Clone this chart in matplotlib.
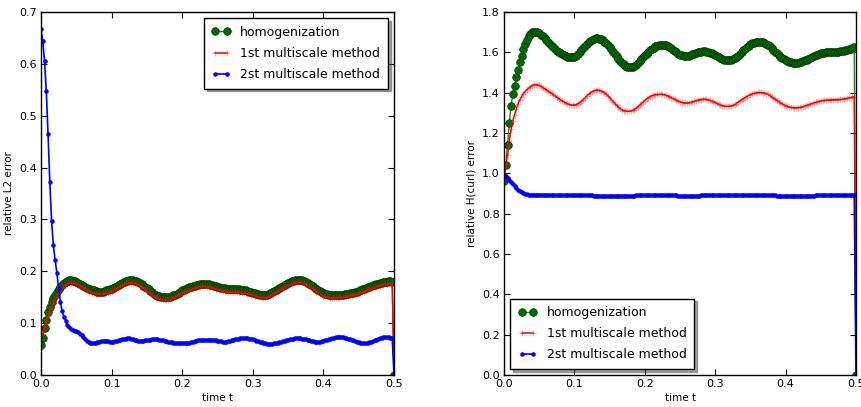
import numpy as np
import matplotlib
matplotlib.use("Agg")
import matplotlib.pyplot as plt

plt.rcParams['font.family'] = ['DejaVu Sans']

labels = ["homogenization", "1st multiscale method", "2st multiscale method"]
xticks = [0.0, 0.1, 0.2, 0.3, 0.4, 0.5]
yticks_l2 = [0.0, 0.1, 0.2, 0.3, 0.4, 0.5, 0.6, 0.7]
yticks_hc = [0.0, 0.2, 0.4, 0.6, 0.8, 1.0, 1.2, 1.4, 1.6, 1.8]

# relative L2 error, sampled every 0.0025 from t=0 to t=0.5 (rows of 0.02)
l2_homog = [
    0.057, 0.071, 0.090, 0.107, 0.121, 0.132, 0.141, 0.148,
    0.154, 0.160, 0.165, 0.170, 0.174, 0.177, 0.180, 0.182,
    0.183, 0.183, 0.182, 0.181, 0.180, 0.178, 0.176, 0.174,
    0.172, 0.170, 0.168, 0.166, 0.165, 0.164, 0.163, 0.162,
    0.161, 0.161, 0.161, 0.161, 0.162, 0.163, 0.164, 0.165,
    0.166, 0.168, 0.170, 0.172, 0.174, 0.176, 0.178, 0.180,
    0.181, 0.182, 0.183, 0.183, 0.183, 0.182, 0.181, 0.179,
    0.177, 0.175, 0.172, 0.170, 0.167, 0.165, 0.162, 0.160,
    0.157, 0.155, 0.153, 0.152, 0.151, 0.150, 0.150, 0.150,
    0.150, 0.151, 0.152, 0.154, 0.155, 0.157, 0.159, 0.161,
    0.163, 0.164, 0.166, 0.167, 0.169, 0.170, 0.171, 0.172,
    0.173, 0.174, 0.175, 0.176, 0.176, 0.176, 0.175, 0.175,
    0.174, 0.173, 0.172, 0.171, 0.170, 0.169, 0.168, 0.167,
    0.167, 0.166, 0.166, 0.165, 0.165, 0.165, 0.165, 0.165,
    0.165, 0.164, 0.164, 0.164, 0.163, 0.162, 0.161, 0.160,
    0.159, 0.158, 0.157, 0.156, 0.155, 0.154, 0.154, 0.154,
    0.155, 0.156, 0.158, 0.160, 0.162, 0.164, 0.166, 0.168,
    0.170, 0.172, 0.174, 0.176, 0.178, 0.179, 0.181, 0.182,
    0.183, 0.184, 0.184, 0.184, 0.183, 0.182, 0.180, 0.178,
    0.176, 0.173, 0.171, 0.168, 0.166, 0.164, 0.162, 0.160,
    0.158, 0.157, 0.156, 0.155, 0.154, 0.154, 0.154, 0.154,
    0.154, 0.154, 0.155, 0.155, 0.156, 0.156, 0.157, 0.158,
    0.158, 0.159, 0.160, 0.161, 0.162, 0.163, 0.165, 0.166,
    0.167, 0.169, 0.170, 0.171, 0.173, 0.174, 0.175, 0.176,
    0.177, 0.178, 0.179, 0.180, 0.180, 0.181, 0.181, 0.180,
    0.0]

l2_ms1 = [
    0.071, 0.080, 0.091, 0.102, 0.113, 0.123, 0.132, 0.139,
    0.146, 0.152, 0.158, 0.163, 0.167, 0.171, 0.174, 0.176,
    0.178, 0.178, 0.177, 0.176, 0.175, 0.173, 0.171, 0.169,
    0.167, 0.165, 0.163, 0.161, 0.160, 0.159, 0.158, 0.157,
    0.156, 0.156, 0.156, 0.156, 0.157, 0.158, 0.159, 0.160,
    0.161, 0.163, 0.165, 0.167, 0.169, 0.171, 0.173, 0.175,
    0.176, 0.177, 0.178, 0.178, 0.178, 0.177, 0.176, 0.174,
    0.172, 0.170, 0.167, 0.165, 0.162, 0.160, 0.157, 0.155,
    0.152, 0.150, 0.148, 0.147, 0.146, 0.145, 0.145, 0.145,
    0.145, 0.146, 0.147, 0.149, 0.150, 0.152, 0.154, 0.156,
    0.158, 0.159, 0.161, 0.162, 0.164, 0.165, 0.166, 0.167,
    0.168, 0.169, 0.170, 0.171, 0.171, 0.171, 0.170, 0.170,
    0.169, 0.168, 0.167, 0.166, 0.165, 0.164, 0.163, 0.162,
    0.162, 0.161, 0.161, 0.160, 0.160, 0.160, 0.160, 0.160,
    0.160, 0.159, 0.159, 0.159, 0.158, 0.157, 0.156, 0.155,
    0.154, 0.153, 0.152, 0.151, 0.150, 0.149, 0.149, 0.149,
    0.150, 0.151, 0.153, 0.155, 0.157, 0.159, 0.161, 0.163,
    0.165, 0.167, 0.169, 0.171, 0.173, 0.174, 0.176, 0.177,
    0.178, 0.179, 0.179, 0.179, 0.178, 0.177, 0.175, 0.173,
    0.171, 0.168, 0.166, 0.163, 0.161, 0.159, 0.157, 0.155,
    0.153, 0.152, 0.151, 0.150, 0.149, 0.149, 0.149, 0.149,
    0.149, 0.149, 0.150, 0.150, 0.151, 0.151, 0.152, 0.153,
    0.153, 0.154, 0.155, 0.156, 0.157, 0.158, 0.160, 0.161,
    0.162, 0.164, 0.165, 0.166, 0.168, 0.169, 0.170, 0.171,
    0.172, 0.173, 0.174, 0.175, 0.175, 0.176, 0.176, 0.175,
    0.0]

l2_ms2 = [
    0.667, 0.644, 0.606, 0.548, 0.465, 0.372, 0.297, 0.251,
    0.222, 0.197, 0.168, 0.141, 0.123, 0.112, 0.104, 0.097,
    0.092, 0.088, 0.086, 0.085, 0.084, 0.083, 0.080, 0.077,
    0.073, 0.069, 0.066, 0.064, 0.062, 0.061, 0.061, 0.062,
    0.063, 0.064, 0.065, 0.066, 0.066, 0.065, 0.065, 0.064,
    0.064, 0.064, 0.065, 0.066, 0.067, 0.068, 0.069, 0.070,
    0.070, 0.071, 0.071, 0.070, 0.069, 0.068, 0.067, 0.066,
    0.066, 0.066, 0.066, 0.067, 0.067, 0.068, 0.068, 0.069,
    0.069, 0.069, 0.069, 0.068, 0.068, 0.067, 0.066, 0.065,
    0.064, 0.063, 0.063, 0.062, 0.062, 0.061, 0.061, 0.061,
    0.061, 0.061, 0.061, 0.062, 0.062, 0.063, 0.064, 0.065,
    0.066, 0.067, 0.067, 0.068, 0.068, 0.068, 0.068, 0.068,
    0.068, 0.068, 0.068, 0.067, 0.066, 0.065, 0.065, 0.064,
    0.064, 0.064, 0.065, 0.066, 0.067, 0.068, 0.069, 0.070,
    0.070, 0.071, 0.071, 0.071, 0.071, 0.071, 0.070, 0.070,
    0.069, 0.068, 0.066, 0.065, 0.064, 0.063, 0.062, 0.061,
    0.060, 0.060, 0.060, 0.060, 0.061, 0.061, 0.062, 0.063,
    0.064, 0.065, 0.066, 0.067, 0.068, 0.069, 0.070, 0.070,
    0.071, 0.071, 0.071, 0.071, 0.070, 0.070, 0.069, 0.068,
    0.067, 0.066, 0.065, 0.064, 0.064, 0.064, 0.064, 0.065,
    0.066, 0.067, 0.068, 0.069, 0.070, 0.071, 0.072, 0.073,
    0.074, 0.074, 0.074, 0.073, 0.072, 0.071, 0.070, 0.069,
    0.068, 0.067, 0.065, 0.064, 0.063, 0.062, 0.061, 0.061,
    0.061, 0.062, 0.063, 0.064, 0.065, 0.067, 0.068, 0.070,
    0.071, 0.072, 0.073, 0.073, 0.073, 0.073, 0.072, 0.071,
    0.0]

# relative H(curl) error
hc_homog = [
    0.960, 1.040, 1.140, 1.250, 1.336, 1.394, 1.435, 1.477,
    1.512, 1.550, 1.583, 1.616, 1.640, 1.660, 1.680, 1.693,
    1.700, 1.703, 1.703, 1.700, 1.695, 1.688, 1.680, 1.670,
    1.660, 1.651, 1.642, 1.633, 1.625, 1.617, 1.609, 1.602,
    1.595, 1.590, 1.585, 1.581, 1.578, 1.576, 1.575, 1.575,
    1.578, 1.584, 1.592, 1.601, 1.610, 1.621, 1.632, 1.642,
    1.650, 1.657, 1.663, 1.667, 1.670, 1.670, 1.668, 1.665,
    1.660, 1.653, 1.645, 1.637, 1.628, 1.617, 1.604, 1.592,
    1.580, 1.568, 1.557, 1.548, 1.540, 1.533, 1.528, 1.526,
    1.525, 1.527, 1.532, 1.539, 1.547, 1.556, 1.566, 1.576,
    1.585, 1.594, 1.603, 1.611, 1.618, 1.624, 1.629, 1.633,
    1.636, 1.638, 1.638, 1.637, 1.634, 1.630, 1.625, 1.620,
    1.614, 1.607, 1.600, 1.594, 1.589, 1.585, 1.583, 1.582,
    1.582, 1.584, 1.587, 1.590, 1.594, 1.597, 1.600, 1.602,
    1.604, 1.605, 1.605, 1.604, 1.602, 1.599, 1.595, 1.591,
    1.587, 1.582, 1.577, 1.572, 1.568, 1.564, 1.562, 1.561,
    1.561, 1.562, 1.565, 1.570, 1.576, 1.584, 1.592, 1.601,
    1.610, 1.618, 1.626, 1.633, 1.639, 1.644, 1.648, 1.650,
    1.651, 1.652, 1.652, 1.651, 1.648, 1.643, 1.637, 1.630,
    1.622, 1.613, 1.604, 1.595, 1.586, 1.578, 1.571, 1.565,
    1.560, 1.556, 1.552, 1.550, 1.548, 1.547, 1.547, 1.548,
    1.550, 1.553, 1.556, 1.560, 1.564, 1.568, 1.572, 1.577,
    1.581, 1.585, 1.589, 1.592, 1.595, 1.597, 1.599, 1.600,
    1.601, 1.601, 1.602, 1.602, 1.603, 1.603, 1.604, 1.605,
    1.606, 1.608, 1.610, 1.612, 1.615, 1.618, 1.622, 1.626,
    0.0]

hc_ms1 = [
    1.000, 1.040, 1.090, 1.160, 1.220, 1.260, 1.290, 1.320,
    1.345, 1.365, 1.380, 1.395, 1.405, 1.414, 1.422, 1.429,
    1.435, 1.439, 1.440, 1.439, 1.436, 1.431, 1.425, 1.420,
    1.415, 1.408, 1.402, 1.396, 1.390, 1.384, 1.377, 1.371,
    1.365, 1.360, 1.354, 1.349, 1.345, 1.342, 1.340, 1.339,
    1.339, 1.341, 1.345, 1.350, 1.357, 1.365, 1.374, 1.383,
    1.391, 1.398, 1.404, 1.409, 1.412, 1.413, 1.412, 1.409,
    1.405, 1.400, 1.393, 1.385, 1.376, 1.366, 1.356, 1.346,
    1.337, 1.328, 1.321, 1.315, 1.311, 1.309, 1.308, 1.308,
    1.309, 1.312, 1.316, 1.322, 1.329, 1.337, 1.345, 1.353,
    1.361, 1.368, 1.375, 1.380, 1.385, 1.388, 1.390, 1.391,
    1.392, 1.393, 1.392, 1.390, 1.388, 1.384, 1.380, 1.376,
    1.372, 1.367, 1.362, 1.358, 1.355, 1.352, 1.350, 1.349,
    1.349, 1.350, 1.352, 1.355, 1.357, 1.360, 1.363, 1.365,
    1.366, 1.367, 1.368, 1.367, 1.365, 1.362, 1.359, 1.355,
    1.351, 1.347, 1.343, 1.339, 1.336, 1.334, 1.333, 1.333,
    1.333, 1.334, 1.337, 1.341, 1.346, 1.352, 1.358, 1.364,
    1.370, 1.376, 1.381, 1.386, 1.390, 1.394, 1.397, 1.399,
    1.400, 1.401, 1.401, 1.400, 1.398, 1.395, 1.391, 1.386,
    1.380, 1.374, 1.368, 1.362, 1.356, 1.350, 1.345, 1.340,
    1.336, 1.332, 1.329, 1.327, 1.326, 1.325, 1.325, 1.326,
    1.327, 1.329, 1.331, 1.334, 1.337, 1.340, 1.343, 1.346,
    1.349, 1.352, 1.355, 1.357, 1.359, 1.361, 1.362, 1.363,
    1.364, 1.364, 1.365, 1.365, 1.365, 1.366, 1.366, 1.367,
    1.368, 1.369, 1.370, 1.372, 1.374, 1.376, 1.378, 1.381,
    0.0]

hc_ms2 = [
    0.993, 0.985, 0.975, 0.965, 0.955, 0.945, 0.936, 0.927,
    0.919, 0.912, 0.906, 0.901, 0.898, 0.896, 0.895, 0.895,
    0.895, 0.895, 0.895, 0.895, 0.895, 0.895, 0.894, 0.894,
    0.893, 0.892, 0.892, 0.891, 0.891, 0.891, 0.891, 0.891,
    0.891, 0.892, 0.892, 0.891, 0.891, 0.891, 0.891, 0.891,
    0.891, 0.891, 0.891, 0.891, 0.891, 0.891, 0.891, 0.891,
    0.891, 0.891, 0.891, 0.890, 0.890, 0.890, 0.889, 0.889,
    0.889, 0.889, 0.889, 0.889, 0.889, 0.889, 0.889, 0.889,
    0.889, 0.889, 0.889, 0.889, 0.889, 0.889, 0.889, 0.889,
    0.889, 0.889, 0.890, 0.891, 0.891, 0.892, 0.892, 0.892,
    0.892, 0.892, 0.892, 0.892, 0.892, 0.892, 0.892, 0.892,
    0.892, 0.892, 0.892, 0.892, 0.892, 0.892, 0.892, 0.892,
    0.892, 0.892, 0.891, 0.890, 0.889, 0.889, 0.889, 0.889,
    0.889, 0.889, 0.889, 0.889, 0.889, 0.889, 0.889, 0.890,
    0.891, 0.892, 0.892, 0.892, 0.892, 0.892, 0.892, 0.892,
    0.892, 0.892, 0.892, 0.892, 0.892, 0.892, 0.892, 0.892,
    0.892, 0.892, 0.892, 0.892, 0.892, 0.892, 0.892, 0.892,
    0.892, 0.892, 0.892, 0.892, 0.892, 0.892, 0.892, 0.892,
    0.892, 0.892, 0.892, 0.892, 0.892, 0.892, 0.892, 0.892,
    0.892, 0.892, 0.891, 0.890, 0.889, 0.889, 0.889, 0.889,
    0.889, 0.889, 0.889, 0.889, 0.889, 0.889, 0.889, 0.889,
    0.889, 0.889, 0.889, 0.889, 0.889, 0.889, 0.889, 0.889,
    0.890, 0.891, 0.892, 0.892, 0.892, 0.892, 0.892, 0.892,
    0.892, 0.892, 0.892, 0.892, 0.892, 0.892, 0.892, 0.892,
    0.892, 0.892, 0.892, 0.892, 0.892, 0.892, 0.892, 0.892,
    0.0]


def tgrid(series):
    return np.linspace(0.0, 0.5, len(series))


fig = plt.figure(figsize=(8.61, 4.07), dpi=100, facecolor='white')
ax1 = fig.add_axes([0.0476, 0.0786, 0.4100, 0.8919])
ax2 = fig.add_axes([0.5854, 0.0786, 0.4088, 0.8919])


def draw(ax, homog, ms1, ms2, ylim, yticks, ylabel, loc):
    ax.plot(tgrid(homog), homog, color=(0.1, 0.55, 0.1), lw=1, marker='o',
            ms=5.5, mfc=(0, 0.42, 0), mec=(0, 0.22, 0), mew=0.5,
            label=labels[0])
    ax.plot(tgrid(ms1), ms1, color=(1, 0, 0), lw=1.1, marker='+', ms=5,
            mec=(1, 0, 0, 0.35), mew=0.7, label=labels[1])
    ax.plot(tgrid(ms2), ms2, color=(0, 0, 1), lw=1.2, marker='.', ms=4.5,
            mfc=(0, 0, 1), mec=(0, 0, 1), label=labels[2])
    ax.set_xlim(0, 0.5)
    ax.set_ylim(*ylim)
    ax.set_xticks(xticks)
    ax.set_yticks(yticks)
    ax.set_xticklabels(["%.1f" % v for v in xticks])
    ax.set_yticklabels(["%.1f" % v for v in yticks])
    ax.tick_params(direction='in', top=True, right=True, length=4,
                   width=0.8, labelsize=8, pad=3)
    for s in ax.spines.values():
        s.set_linewidth(1.0)
    ax.set_xlabel("time t", fontsize=7.5, labelpad=3)
    ax.set_ylabel(ylabel, fontsize=7.5, labelpad=4)
    leg = ax.legend(loc=loc, fontsize=9, numpoints=2, shadow=True,
                    fancybox=False, handlelength=1.5, borderpad=0.6,
                    labelspacing=0.65, handletextpad=0.8, borderaxespad=0.5)
    leg.get_frame().set_edgecolor('black')
    leg.get_frame().set_linewidth(1.0)


draw(ax1, l2_homog, l2_ms1, l2_ms2, (0, 0.7), yticks_l2,
     "relative L2 error", 'upper right')
draw(ax2, hc_homog, hc_ms1, hc_ms2, (0, 1.8), yticks_hc,
     "relative H(curl) error", 'lower left')

fig.savefig("out.png", dpi=100, facecolor='white')
